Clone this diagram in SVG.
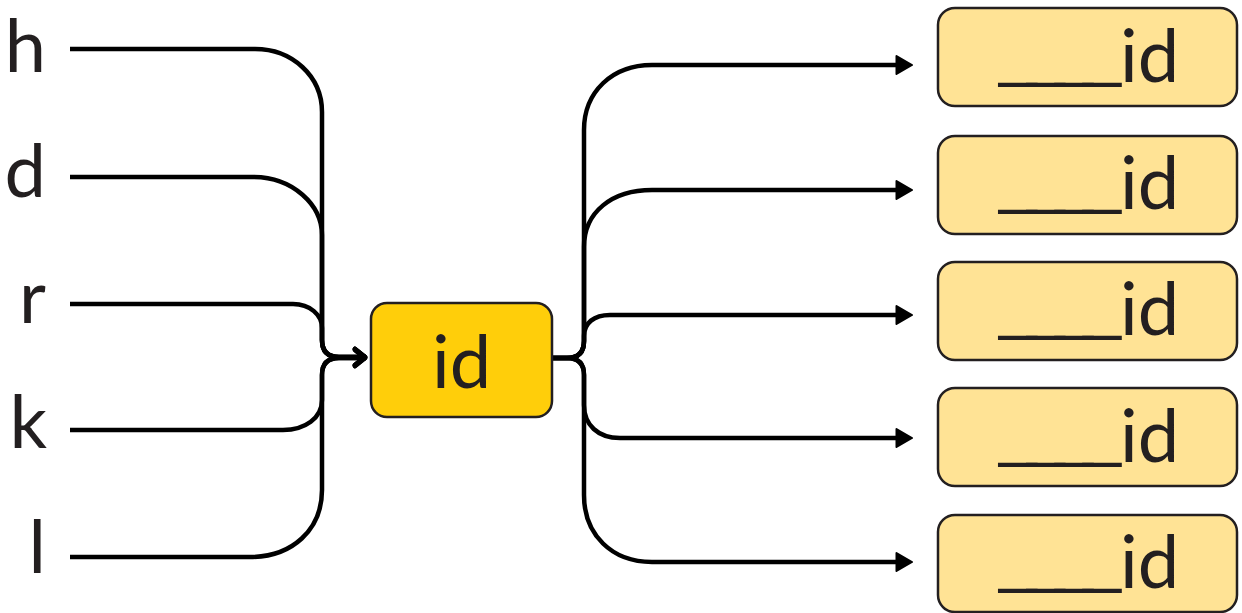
<svg xmlns="http://www.w3.org/2000/svg" width="1242" height="613" viewBox="0 0 1242 613">
<style>
.lbl{font-family:"Lato","Open Sans",sans-serif;font-size:74px;fill:#231F20}
.us{font-family:"Liberation Sans",Arial,sans-serif;font-size:68px;letter-spacing:-9.7px}
.conn{fill:none;stroke:#000;stroke-width:4.5;stroke-linecap:butt}
.center{fill:#FFCE0A;stroke:#231F20;stroke-width:2.5}
.out{fill:#FFE395;stroke:#231F20;stroke-width:2.5}
</style>
<defs>
<marker id="tri" viewBox="0 0 18 22" refX="7" refY="11" markerWidth="18" markerHeight="22" markerUnits="userSpaceOnUse" orient="auto">
<path d="M1.5,2 L17,11 L1.5,20 z" fill="#000" stroke="#000" stroke-width="2" stroke-linejoin="round"/>
</marker>
<marker id="chev" viewBox="0 0 16 22" refX="14" refY="11" markerWidth="16" markerHeight="22" markerUnits="userSpaceOnUse" orient="auto">
<path d="M3,3 L13,11 L3,19" fill="none" stroke="#000" stroke-width="4.5" stroke-linecap="round" stroke-linejoin="round"/>
</marker>
</defs>
<g id="labels">
<text class="lbl" x="46" y="72" text-anchor="end">h</text>
<text class="lbl" x="46" y="197" text-anchor="end">d</text>
<text class="lbl" x="46" y="323" text-anchor="end">r</text>
<text class="lbl" x="47" y="448" text-anchor="end">k</text>
<text class="lbl" x="46" y="573" text-anchor="end">l</text>
</g>
<g id="connectors">
<path class="conn" d="M70,49 H255 C292,49 322,76 322,112 V340 Q322,357 339,357 H366" marker-end="url(#chev)"/>
<path class="conn" d="M70,177 H253 C293,177 322,205 322,235 V340 Q322,357 339,357 H366" marker-end="url(#chev)"/>
<path class="conn" d="M70,304 H293 C310,304 322,315 322,328 V340 Q322,357 339,357 H366" marker-end="url(#chev)"/>
<path class="conn" d="M70,430 H283 C305,430 322,418 322,400 V375 Q322,358 339,358 H366" marker-end="url(#chev)"/>
<path class="conn" d="M70,557 H250 C292,557 322,530 322,490 V375 Q322,358 339,358 H366" marker-end="url(#chev)"/>
<path class="conn" d="M552,358 H567 Q584,358 584,341 V130 C584,92 612,65 652,65 H902" marker-end="url(#tri)"/>
<path class="conn" d="M552,358 H567 Q584,358 584,341 V247 C584,212 612,190 652,190 H902" marker-end="url(#tri)"/>
<path class="conn" d="M552,358 H567 Q584,358 584,341 V336 C584,323 594,315 610,315 H902" marker-end="url(#tri)"/>
<path class="conn" d="M552,358 H567 Q584,358 584,375 V405 C584,425 598,438 620,438 H902" marker-end="url(#tri)"/>
<path class="conn" d="M552,358 H567 Q584,358 584,375 V495 C584,535 612,562 652,562 H902" marker-end="url(#tri)"/>
</g>
<g id="node-center">
<rect class="center" x="371" y="303" width="181" height="114" rx="16"/>
<text class="lbl" x="461.5" y="388" text-anchor="middle">id</text>
</g>
<g id="node-out1">
<rect class="out" x="938" y="8" width="299" height="98" rx="17"/>
<text class="lbl"><tspan class="us" x="999" y="72.5">____</tspan><tspan x="1120" y="82">id</tspan></text>
</g>
<g id="node-out2">
<rect class="out" x="938" y="136" width="299" height="98" rx="17"/>
<text class="lbl"><tspan class="us" x="999" y="199.5">____</tspan><tspan x="1120" y="209">id</tspan></text>
</g>
<g id="node-out3">
<rect class="out" x="938" y="262" width="299" height="98" rx="17"/>
<text class="lbl"><tspan class="us" x="999" y="325.5">____</tspan><tspan x="1120" y="335">id</tspan></text>
</g>
<g id="node-out4">
<rect class="out" x="938" y="388" width="299" height="98" rx="17"/>
<text class="lbl"><tspan class="us" x="999" y="452.5">____</tspan><tspan x="1120" y="462">id</tspan></text>
</g>
<g id="node-out5">
<rect class="out" x="938" y="515" width="299" height="97" rx="17"/>
<text class="lbl"><tspan class="us" x="999" y="578.5">____</tspan><tspan x="1120" y="588">id</tspan></text>
</g>
</svg>
